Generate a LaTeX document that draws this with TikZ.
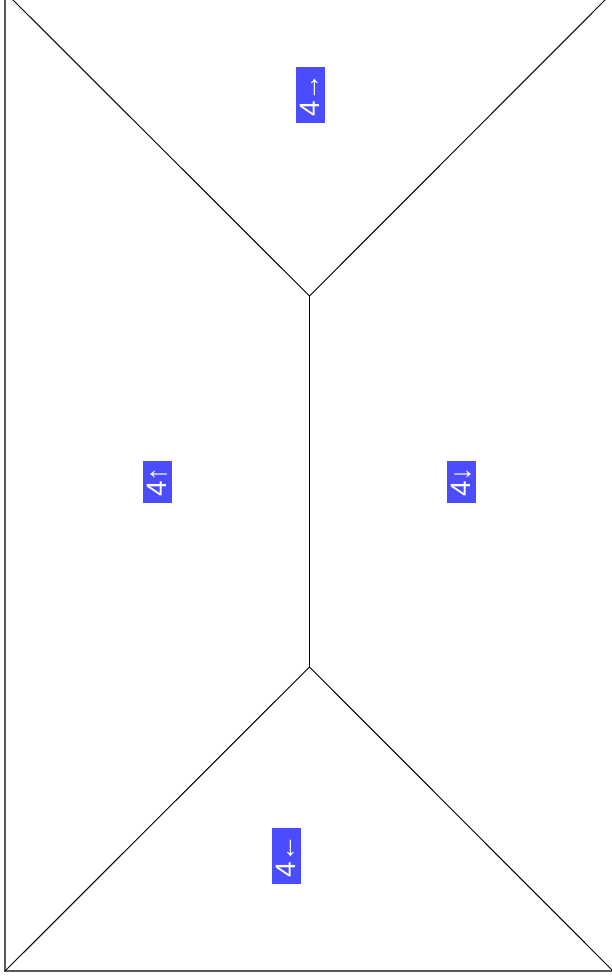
\documentclass[tikz,border=0pt]{standalone}
\usepackage{fontspec}
\setmainfont{Liberation Sans}
\usepackage{tikz}

\tikzset{pant/.style={fill=blue!70,text=white,rotate=90,font=\fontsize{28}{28}\selectfont,inner xsep=6pt,inner ysep=0pt,minimum height=29pt}}

\begin{document}
\begin{tikzpicture}[x=1pt,y=-1pt]
\useasboundingbox (0,0) rectangle (612,979);
\coordinate (A) at (5,-8); \coordinate (B) at (613,-8);
\coordinate (C) at (613,971); \coordinate (D) at (5,971);
\coordinate (R1) at (309.5,296); \coordinate (R2) at (309.5,667);
\draw[line width=1.6pt,black!65] (A) -- (B) -- (C) -- (D) -- cycle;
\draw[line width=1pt] (A) -- (R1) -- (B);
\draw[line width=1pt] (D) -- (R2) -- (C);
\draw[line width=1pt] (R1) -- (R2);
\node[pant] (pN) at (310,95) {4→};
\node[pant] (pW) at (157,482) {4↑};
\node[pant] (pE) at (461,482) {4↓};
\node[pant] (pS) at (286,856) {4←};
\end{tikzpicture}
\end{document}
